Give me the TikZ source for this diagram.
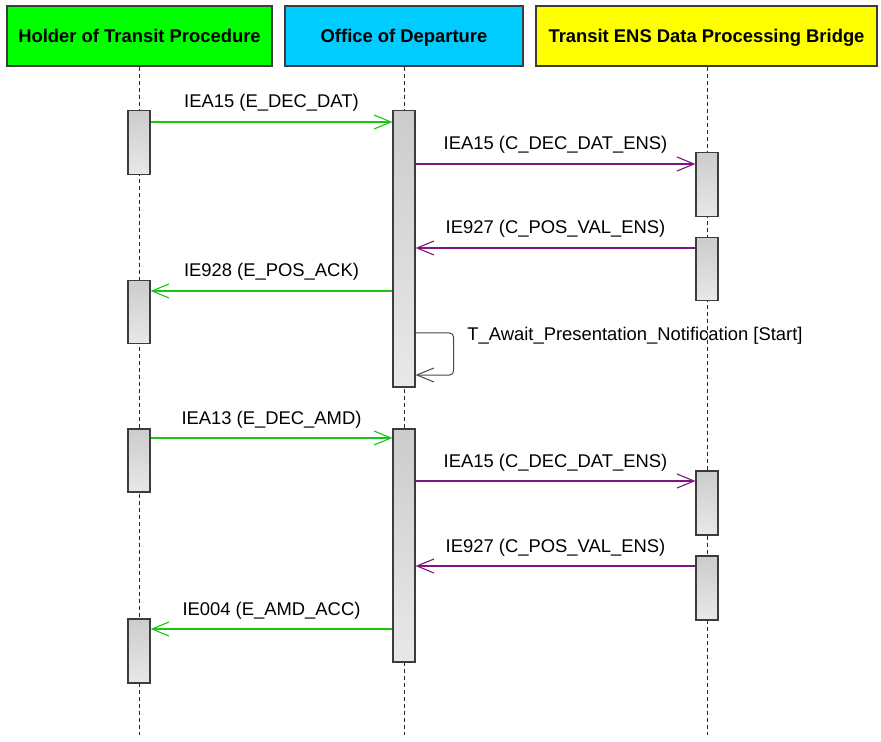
\documentclass[tikz,border=0pt]{standalone}
\usepackage{fontspec}
\setmainfont{Liberation Sans}
\usetikzlibrary{
  positioning,
  arrows.meta,
  calc
}
\definecolor{holderbg}{RGB}{0,255,0}
\definecolor{officebg}{RGB}{0,204,255}
\definecolor{bridgebg}{RGB}{255,255,0}
\definecolor{boxborder}{RGB}{60,60,60}
\definecolor{extmsg}{RGB}{20,200,20}
\definecolor{intmsg}{RGB}{128,20,128}
\definecolor{selfmsg}{RGB}{70,70,70}
\definecolor{lifecolor}{RGB}{40,40,40}
\tikzset{
  headbox/.style={
    draw=boxborder, line width=0.6pt,
    minimum height=30pt, inner sep=0pt,
    text height=6.6pt, text depth=0pt,
    font=\fontsize{9.2}{11}\selectfont\bfseries
  },
  actbox/.style={
    draw=boxborder, line width=0.75pt,
    top color=black!20, bottom color=black!9,
    minimum width=10.8pt, inner sep=0pt, anchor=north
  },
  lifeline/.style={
    draw=lifecolor, line width=0.5pt, dash pattern=on 2pt off 1.5pt
  },
  extarrow/.style={
    -{Straight Barb[length=8.5pt,width=7pt]}, line width=0.55pt, draw=extmsg
  },
  intarrow/.style={
    -{Straight Barb[length=8.5pt,width=7pt]}, line width=0.55pt, draw=intmsg
  },
  selfarrow/.style={
    -{Straight Barb[length=8.5pt,width=7pt]}, line width=0.5pt, draw=selfmsg,
    rounded corners=2pt
  },
  msglabel/.style={
    font=\fontsize{9.2}{11}\selectfont, anchor=base, yshift=7pt, inner sep=0pt
  }
}

\begin{document}
\begin{tikzpicture}[x=0.5pt, y=-0.5pt]
  \useasboundingbox (0,0) rectangle (881,742);

  % lanes
  \node[headbox, fill=holderbg, minimum width=132.5pt] (holder) at (139.5,36) {Holder of Transit Procedure};
  \node[headbox, fill=officebg, minimum width=119pt] (office) at (404,36) {Office of Departure};
  \node[headbox, fill=bridgebg, minimum width=170.5pt] (bridge) at (706.5,36) {Transit ENS Data Processing Bridge};

  \draw[lifeline] (holder.south -| 139,0) -- (139,735);
  \draw[lifeline] (office.south) -- (office.south |- 0,735);
  \draw[lifeline] (bridge.south -| 707,0) -- (707,735);

  % activations
  \node[actbox, minimum height=32pt] (h1) at (139,110) {};
  \node[actbox, minimum height=31.5pt] (h2) at (139,280) {};
  \node[actbox, minimum height=31.5pt] (h3) at (139,428) {};
  \node[actbox, minimum height=32pt] (h4) at (139,618) {};
  \node[actbox, minimum height=138pt] (o1) at (404,110) {};
  \node[actbox, minimum height=116.5pt] (o2) at (404,428) {};
  \node[actbox, minimum height=32pt] (b1) at (707,152) {};
  \node[actbox, minimum height=31.5pt] (b2) at (707,237) {};
  \node[actbox, minimum height=32pt] (b3) at (707,470) {};
  \node[actbox, minimum height=32pt] (b4) at (707,555) {};

  % messages
  \draw[extarrow] (h1.east |- 0,122) -- node[msglabel] (l1) {IEA15 (E\_DEC\_DAT)} (o1.west |- 0,122);
  \draw[intarrow] (o1.east |- 0,164) -- node[msglabel] (l2) {IEA15 (C\_DEC\_DAT\_ENS)} (b1.west |- 0,164);
  \draw[intarrow] (b2.west |- 0,248) -- node[msglabel] (l3) {IE927 (C\_POS\_VAL\_ENS)} (o1.east |- 0,248);
  \draw[extarrow] (o1.west |- 0,291) -- node[msglabel] (l4) {IE928 (E\_POS\_ACK)} (h2.east |- 0,291);
  \draw[selfarrow] (o1.east |- 0,333) -- ++(38,0) -- ++(0,42) -- (o1.east |- 0,375);
  \node[font=\fontsize{9.2}{11}\selectfont, anchor=base west, inner sep=0pt] (l5) at (467,341) {T\_Await\_Presentation\_Notification [Start]};
  \draw[extarrow] (h3.east |- 0,438) -- node[msglabel] (l6) {IEA13 (E\_DEC\_AMD)} (o2.west |- 0,438);
  \draw[intarrow] (o2.east |- 0,481) -- node[msglabel] (l7) {IEA15 (C\_DEC\_DAT\_ENS)} (b3.west |- 0,481);
  \draw[intarrow] (b4.west |- 0,566) -- node[msglabel] (l8) {IE927 (C\_POS\_VAL\_ENS)} (o2.east |- 0,566);
  \draw[extarrow] (o2.west |- 0,629) -- node[msglabel] (l9) {IE004 (E\_AMD\_ACC)} (h4.east |- 0,629);

\end{tikzpicture}
\end{document}
